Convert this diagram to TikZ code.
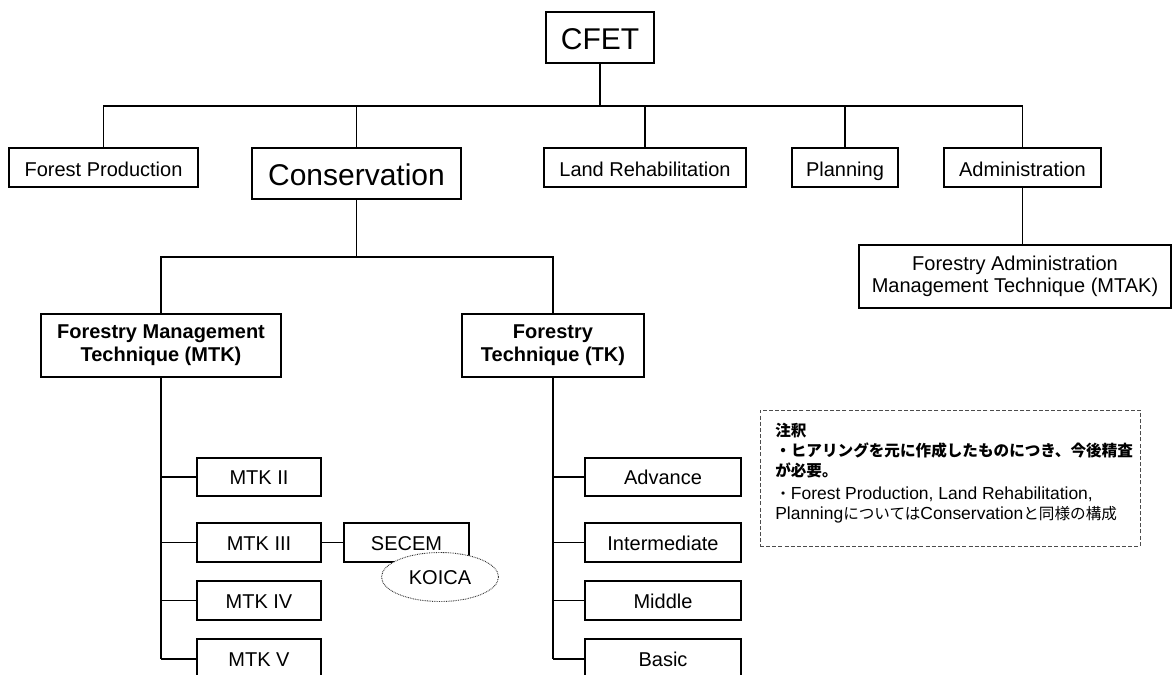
\documentclass[tikz,border=0pt]{standalone}
\usepackage{fontspec}
\setmainfont{Liberation Sans}
\newfontfamily\jpfont{Noto Sans CJK JP}
\usetikzlibrary{shapes.geometric}
\newcommand\jptext[1]{{\jpfont\fontsize{11.7}{14}\selectfont #1}}
\begin{document}
\begin{tikzpicture}[x=0.75pt,y=-0.75pt,
  % frame={x1}{y1}{x2}{y2}: box spanning the two corners
  frame/.style n args={4}{minimum width={(#3-#1)*0.75pt}, minimum height={(#4-#2)*0.75pt},
    at={({(#1+#3)/2},{(#2+#4)/2})}},
  box/.style={draw, rectangle, inner sep=0pt, outer sep=0pt, line width=1pt,
    align=center, font=\fontsize{15}{17.25}\selectfont},
  onebox/.style={box, text height=11.5pt, text depth=0pt},
  deptbox/.style={box, text height=13.7pt, text depth=0pt},
  bigbox/.style={box, font=\fontsize{22.5}{26}\selectfont, text height=17.8pt, text depth=0pt},
  boldbox/.style={box, font=\bfseries\fontsize{15}{17.25}\selectfont},
  link/.style={line width=1pt},
  trunk/.style={line width=1.5pt},
  notebox/.style={draw=black!70, dash pattern=on 3pt off 1.6pt, line width=0.75pt, inner sep=0pt},
  noteline/.style={anchor=base west, inner sep=0pt, font=\fontsize{13.1}{15}\selectfont},
  cloud/.style={ellipse, draw=black!80, dash pattern=on 0.6pt off 0.7pt, line width=0.7pt,
    fill=white, inner sep=0pt, font=\fontsize{15}{17.25}\selectfont,
    text height=11.5pt, text depth=0pt},
]
\useasboundingbox (0,0) rectangle (1172,675);

% top level
\node[bigbox, frame={546}{12}{654}{63}] (cfet) {CFET};

% departments
\node[deptbox, frame={9}{148}{198}{187}] (fp) {Forest Production};
\node[bigbox, frame={252}{148}{461}{199}] (cons) {Conservation};
\node[deptbox, frame={544}{148}{746}{187}] (lr) {Land Rehabilitation};
\node[deptbox, frame={792}{148}{898}{187}] (plan) {Planning};
\node[deptbox, frame={944}{148}{1101}{187}] (adm) {Administration};
\node[box, frame={859}{245}{1171}{308}, font=\fontsize{15}{16.5}\selectfont] (mtak)
  {Forestry Administration\\Management Technique (MTAK)};

% department bus
\path (cfet.south) ++(0,43) coordinate (bus1);
\draw[link] (cfet.south) -- (bus1);
\draw[link] (fp.north) |- (bus1) -| (adm.north);
\foreach \n in {cons,lr,plan} \draw[link] (\n.north) -- (\n.north |- bus1);
\draw[link] (adm.south) -- (adm.south |- mtak.north);

% conservation programmes
\node[boldbox, frame={41}{314}{281}{377}] (mtk) {Forestry Management\\Technique (MTK)};
\node[boldbox, frame={462}{314}{644}{377}] (tk) {Forestry\\Technique (TK)};
\path (cons.south) ++(0,58) coordinate (bus2);
\draw[link] (cons.south) -- (bus2);
\draw[link] (mtk.north) |- (bus2) -| (tk.north);

% MTK levels
\node[onebox, frame={197}{458}{321}{496}] (m2) {MTK II};
\node[onebox, frame={197}{523}{321}{562}] (m3) {MTK III};
\node[onebox, frame={197}{581}{321}{620}] (m4) {MTK IV};
\node[onebox, frame={197}{639}{321}{679}] (m5) {MTK V};
\draw[trunk] (mtk.south) -- (mtk.south |- m5.west);
\foreach \n in {m2,m3,m4,m5} \draw[link] (\n.west) -- (\n.west -| mtk.south);

\node[onebox, frame={344}{523}{469}{562}] (secem) {SECEM};
\draw[link] (m3.east) -- (secem.west);
\node[cloud, minimum width=87.75pt, minimum height=36.75pt] (koica) at (440,577) {KOICA};

% TK levels
\node[onebox, frame={585}{458}{741}{496}] (t1) {Advance};
\node[onebox, frame={585}{523}{741}{562}] (t2) {Intermediate};
\node[onebox, frame={585}{581}{741}{620}] (t3) {Middle};
\node[onebox, frame={585}{639}{741}{679}] (t4) {Basic};
\draw[trunk] (tk.south) -- (tk.south |- t4.west);
\foreach \n in {t1,t2,t3,t4} \draw[link] (\n.west) -- (\n.west -| tk.south);

% remarks
\node[notebox, frame={760}{410}{1140}{546}] (note) {};
\node[noteline] (n1) at (775,436) {\jptext{\bfseries 注釈}};
\node[noteline] (n2) at (775,456) {\jptext{\bfseries ・ヒアリングを元に作成したものにつき、今後精査}};
\node[noteline] (n3) at (775,476) {\jptext{\bfseries が必要。}};
\node[noteline] (n4) at (775,499) {\jptext{・}Forest Production, Land Rehabilitation,};
\node[noteline] (n5) at (775,519) {Planning\jptext{については}Conservation\jptext{と同様の構成}};
\end{tikzpicture}
\end{document}
